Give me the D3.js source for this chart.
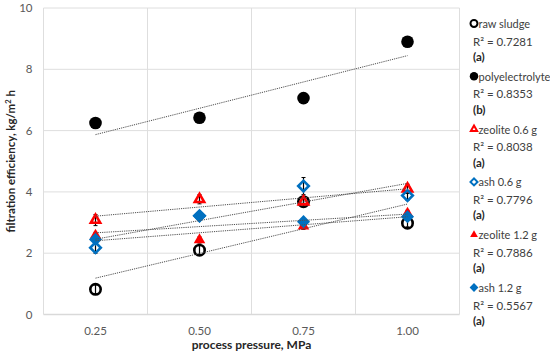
<!DOCTYPE html>
<html>
<head>
<meta charset="utf-8">
<script src="https://cdn.jsdelivr.net/npm/d3@7"></script>
<style>
  body { margin: 0; background: #fff; }
  svg { font-family: Lato, "Open Sans", sans-serif; }
</style>
</head>
<body>
<div id="chart"></div>
<script>
var svgWidth = 550;
var svgHeight = 359;

// data
var pressures = ["0.25", "0.50", "0.75", "1.00"];
var yTicks = [0, 2, 4, 6, 8, 10];

var rawSludge = [0.82, 2.10, 3.68, 2.98];
var polyelectrolyte = [6.25, 6.42, 7.06, 8.90];
var zeolite06 = [3.08, 3.76, 3.68, 4.10];
var ash06 = [2.18, 3.22, 4.19, 3.88];
var zeolite12 = [2.58, 2.43, 2.88, 3.30];
var ash12 = [2.45, 3.21, 3.03, 3.19];

var rawSludgeErr = [0.15, 0.15, 0.15, 0.12];
var polyelectrolyteErr = [0.1, 0.1, 0.1, 0.1];
var zeolite06Err = [0.18, 0.15, 0.15, 0.15];
var ash06Err = [0.18, 0.1, 0.28, 0.15];
var zeolite12Err = [0.1, 0.1, 0.1, 0.1];
var ash12Err = [0.1, 0.1, 0.1, 0.1];

var seriesNames = ["raw sludge", "polyelectrolyte", "zeolite 0.6 g", "ash 0.6 g", "zeolite 1.2 g", "ash 1.2 g"];
var r2Labels = ["R² = 0.7281", "R² = 0.8353", "R² = 0.8038", "R² = 0.7796", "R² = 0.7886", "R² = 0.5567"];
var groupLabels = ["(a)", "(b)", "(a)", "(a)", "(a)", "(a)"];

var seriesValues = [rawSludge, polyelectrolyte, zeolite06, ash06, zeolite12, ash12];
var seriesErrors = [rawSludgeErr, polyelectrolyteErr, zeolite06Err, ash06Err, zeolite12Err, ash12Err];

// marker styles
var styles = [
  { shape: "circle", color: "#000", filled: false },
  { shape: "circle", color: "#000", filled: true },
  { shape: "triangle", color: "#ff0000", filled: false },
  { shape: "diamond", color: "#0070c0", filled: false },
  { shape: "triangle", color: "#ff0000", filled: true },
  { shape: "diamond", color: "#0070c0", filled: true }
];

var plot = { left: 43.5, right: 459.5, top: 8, bottom: 314.5 };

var svg = d3.select("#chart")
  .append("svg")
  .attr("width", svgWidth)
  .attr("height", svgHeight);

var xScale = d3.scaleBand()
  .domain(pressures)
  .range([plot.left, plot.right])
  .padding(0);

var yScale = d3.scaleLinear()
  .domain([0, 10])
  .range([plot.bottom, plot.top]);

var xc = d => xScale(d) + xScale.bandwidth() / 2;

// gridlines
svg.append("g").selectAll("line")
  .data(yTicks.slice(1))
  .enter()
  .append("line")
  .attr("x1", plot.left).attr("x2", plot.right)
  .attr("y1", d => yScale(d)).attr("y2", d => yScale(d))
  .attr("stroke", "#dedede").attr("stroke-width", 1);

svg.append("g").selectAll("line")
  .data(pressures)
  .enter()
  .append("line")
  .attr("x1", d => xScale(d)).attr("x2", d => xScale(d))
  .attr("y1", plot.top).attr("y2", plot.bottom)
  .attr("stroke", "#dedede").attr("stroke-width", 1);

svg.append("line")
  .attr("x1", plot.right).attr("x2", plot.right)
  .attr("y1", plot.top).attr("y2", plot.bottom)
  .attr("stroke", "#dedede");

svg.append("line")
  .attr("x1", plot.left).attr("x2", plot.right)
  .attr("y1", plot.bottom).attr("y2", plot.bottom)
  .attr("stroke", "#d9d9d9").attr("stroke-width", 1.5);

// axes (labels only, Excel style)
var leftAxis = d3.axisLeft(yScale).tickValues(yTicks).tickSize(0).tickPadding(11);
var yAxis = svg.append("g")
  .attr("transform", `translate(${plot.left}, 0)`)
  .call(leftAxis);
yAxis.select(".domain").remove();
yAxis.selectAll("text").attr("font-size", "11.5px").attr("fill", "#595959")
  .attr("font-family", "Lato, sans-serif");

var bottomAxis = d3.axisBottom(xScale).tickSize(0).tickPadding(12);
var xAxis = svg.append("g")
  .attr("transform", `translate(0, ${plot.bottom})`)
  .call(bottomAxis);
xAxis.select(".domain").remove();
xAxis.selectAll("text").attr("font-size", "11.5px").attr("fill", "#595959")
  .attr("font-family", "Lato, sans-serif");

// axis titles
svg.append("text")
  .attr("x", (plot.left + plot.right) / 2)
  .attr("y", 349)
  .attr("text-anchor", "middle")
  .attr("font-size", "12px")
  .attr("font-weight", "bold")
  .attr("fill", "#262626")
  .text("process pressure, MPa");

var yTitle = svg.append("text")
  .attr("transform", `translate(14.5, ${(plot.top + plot.bottom) / 2}) rotate(-90)`)
  .attr("text-anchor", "middle")
  .attr("font-size", "11.5px")
  .attr("font-weight", "bold")
  .attr("fill", "#262626");
yTitle.append("tspan").text("filtration efficiency,  kg/m");
yTitle.append("tspan").attr("font-size", "7.5px").attr("dy", "-4").text("2");
yTitle.append("tspan").attr("dy", "4").text(" h");

// marker drawing helper
function symbolPath(shape, size) {
  if (shape === "circle") return d3.symbol().type(d3.symbolCircle).size(size)();
  if (shape === "triangle") return d3.symbol().type(d3.symbolTriangle).size(size)();
  return d3.symbol().type(d3.symbolSquare).size(size)();
}

function markerSize(st, scale) {
  var s;
  if (st.shape === "circle") s = st.filled ? 125 : 85;
  else if (st.shape === "triangle") s = st.filled ? 58 : 38;
  else s = st.filled ? 86 : 56;
  return s * scale;
}

function drawMarker(g, st, x, y, scale, sw) {
  var p = g.append("path")
    .attr("d", symbolPath(st.shape, markerSize(st, scale)))
    .attr("transform", `translate(${x}, ${y})` + (st.shape === "diamond" ? " rotate(45)" : ""));
  if (st.filled) {
    p.attr("fill", st.color).attr("stroke", "none");
  } else {
    p.attr("fill", "none").attr("stroke", st.color).attr("stroke-width", sw);
  }
}

// error bars first
var errG = svg.append("g");
seriesValues.forEach(function(vals, i) {
  vals.forEach(function(v, j) {
    var e = seriesErrors[i][j];
    var x = xc(pressures[j]);
    errG.append("line")
      .attr("x1", x).attr("x2", x)
      .attr("y1", yScale(v - e)).attr("y2", yScale(v + e))
      .attr("stroke", "#000").attr("stroke-width", 1.2);
    [v - e, v + e].forEach(function(t) {
      errG.append("line")
        .attr("x1", x - 2).attr("x2", x + 2)
        .attr("y1", yScale(t)).attr("y2", yScale(t))
        .attr("stroke", "#000").attr("stroke-width", 1);
    });
  });
});

// markers
var markG = svg.append("g");
seriesValues.forEach(function(vals, i) {
  vals.forEach(function(v, j) {
    drawMarker(markG, styles[i], xc(pressures[j]), yScale(v), 1, 2.6);
  });
});

// linear trendlines (least squares on category index)
var trendG = svg.append("g");
seriesValues.forEach(function(vals) {
  var xs = vals.map((v, j) => j + 1);
  var mx = d3.mean(xs), my = d3.mean(vals);
  var slope = d3.sum(xs, (x, j) => (x - mx) * (vals[j] - my)) / d3.sum(xs, x => (x - mx) * (x - mx));
  var b = my - slope * mx;
  trendG.append("line")
    .attr("x1", xc(pressures[0])).attr("x2", xc(pressures[3]))
    .attr("y1", yScale(b + slope * 1)).attr("y2", yScale(b + slope * 4))
    .attr("stroke", "#505050")
    .attr("stroke-width", 1)
    .attr("stroke-dasharray", "1.2,1");
});

// legend
var legend = svg.append("g");
seriesNames.forEach(function(name, i) {
  var y0 = 24 + i * 52.8;
  drawMarker(legend, styles[i], 474, y0 - 0.5, 0.45, 2);
  legend.append("text")
    .attr("x", 478.5).attr("y", y0 + 4)
    .attr("font-size", "11px").attr("fill", "#404040")
    .text(name);
  legend.append("text")
    .attr("x", 473).attr("y", y0 + 21.5)
    .attr("font-size", "11.5px").attr("fill", "#404040")
    .text(r2Labels[i]);
  legend.append("text")
    .attr("x", 473).attr("y", y0 + 37)
    .attr("font-size", "11.5px").attr("font-weight", "bold").attr("fill", "#262626")
    .text(groupLabels[i]);
});
</script>
</body>
</html>
